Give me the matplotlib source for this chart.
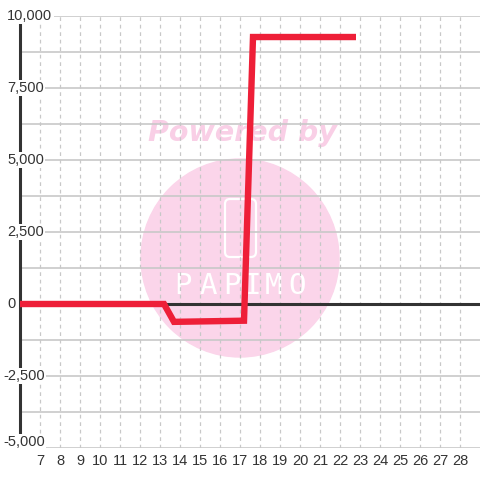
import matplotlib
matplotlib.use('Agg')
import matplotlib.pyplot as plt
from matplotlib.patches import Circle, FancyBboxPatch

# Series
x_vals = [6, 13.2, 13.7, 17.2, 17.65, 22.8]
y_vals = [0, 0, -620, -580, 9270, 9270]

x_ticks = list(range(7, 29))
y_ticks = [10000, 7500, 5000, 2500, 0, -2500, -5000]
y_minor = [8750, 6250, 3750, 1250, -1250, -3750]

fig = plt.figure(figsize=(4.8, 4.8), dpi=100)
fig.patch.set_facecolor('white')
ax = fig.add_axes([20 / 480, 32 / 480, 460 / 480, 432 / 480])
ax.set_xlim(6, 29)
ax.set_ylim(-5000, 10000)
for s in ax.spines.values():
    s.set_visible(False)
ax.set_xticks([])
ax.set_yticks([])

# grid
for y in y_ticks + y_minor:
    ax.axhline(y, color='#c8c8c8', lw=1.2, zorder=2)
for x in x_ticks:
    ax.axvline(x, color='#c8c8c8', lw=0.9, ls=(0, (3, 3)), zorder=2)

# watermark
pink = '#fbd5ea'
ax.add_patch(Circle((240, 480 - 258), 99, transform=None, color=pink, zorder=1))
ax.text(242 / 480, 1 - 133 / 480, 'Powered by', color='#f9cfe6', fontsize=20.5,
        fontweight='bold', style='italic', ha='center', va='center',
        transform=fig.transFigure, zorder=1)
ax.add_patch(FancyBboxPatch((225, 480 - 257), 31, 58,
                            boxstyle='round,pad=0,rounding_size=5',
                            transform=None, fill=False, ec='white', lw=1.6, zorder=1.5))
for ch, cx in zip('PAPIMO', [183, 208, 232, 252, 273, 297]):
    ax.text(cx / 480, 1 - 286 / 480, ch, color='white', fontsize=21,
            family='DejaVu Sans Mono', ha='center', va='center',
            transform=fig.transFigure, zorder=1.5)

# axes lines
ax.axhline(0, color='#333333', lw=2.2, zorder=3)
ax.axvline(6, color='#333333', lw=2.2, zorder=3, clip_on=False)

ax.plot(x_vals, y_vals, color='#ee1f38', lw=4.6, solid_joinstyle='miter',
        solid_capstyle='butt', zorder=5)

# y labels with white boxes
for y in y_ticks:
    ax.annotate(f'{y:,}', xy=(3 if y < 0 else 7, y), xycoords=('figure pixels', 'data'),
                xytext=(0, 4 if y == -5000 else 0), textcoords='offset points',
                ha='left', va='center', fontsize=10.5, color='#333333',
                family='Liberation Sans', zorder=6, annotation_clip=False,
                bbox=dict(boxstyle='square,pad=0.1', fc='white', ec='none'))

# x labels
for x in x_ticks:
    ax.annotate(str(x), xy=(x, 19), xycoords=('data', 'figure pixels'),
                ha='center', va='center', fontsize=10.5, color='#333333',
                family='Liberation Sans', annotation_clip=False)

fig.savefig('out.png', dpi=100)
